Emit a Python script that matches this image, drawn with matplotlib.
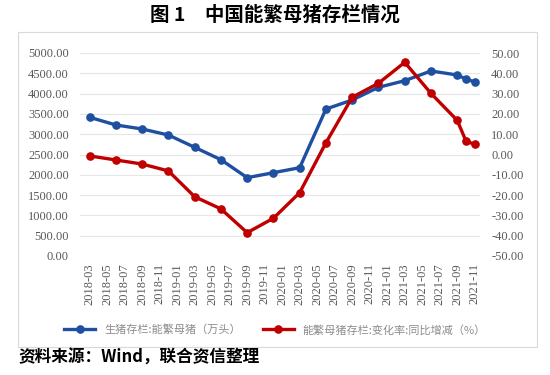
import matplotlib
matplotlib.use("Agg")
import matplotlib.pyplot as plt
from matplotlib.patches import Rectangle

plt.rcParams['font.family'] = ['Noto Sans CJK SC', 'DejaVu Sans']

# data points (quarterly, then monthly at the end)
dates = ['2018-03', '2018-06', '2018-09', '2018-12',
         '2019-03', '2019-06', '2019-09', '2019-12',
         '2020-03', '2020-06', '2020-09', '2020-12',
         '2021-03', '2021-06', '2021-09', '2021-10', '2021-11']
sows = [3416, 3227, 3128, 2980, 2677, 2372, 1929, 2052,
        2175, 3620, 3842, 4155, 4318, 4557, 4458, 4360, 4286]
yoy = [-0.7, -2.7, -4.7, -8.1, -20.8, -26.8, -38.5, -31.4,
       -18.8, 5.8, 28.2, 35.1, 45.4, 30.1, 16.8, 6.6, 5.0]

tick_labels = ['2018-03', '2018-05', '2018-07', '2018-09', '2018-11',
               '2019-01', '2019-03', '2019-05', '2019-07', '2019-09', '2019-11',
               '2020-01', '2020-03', '2020-05', '2020-07', '2020-09', '2020-11',
               '2021-01', '2021-03', '2021-05', '2021-07', '2021-09', '2021-11']

label_blue = '生猪存栏:能繁母猪（万头）'
label_red = '能繁母猪存栏:变化率:同比增减（%）'


def month_index(s):
    y, m = s.split('-')
    return (int(y) - 2018) * 12 + int(m) - 3


x = [month_index(d) for d in dates]
xt = [month_index(d) for d in tick_labels]

blue = '#1f4fa0'
red = '#c00000'
tick_color = '#595959'
serif = ['Liberation Serif', 'DejaVu Serif']

fig = plt.figure(figsize=(5.5, 3.75), dpi=100)

# chart frame
fig.patches.append(Rectangle((18 / 550, 1 - 347 / 375), 519 / 550, 315 / 375,
                             transform=fig.transFigure, fill=False,
                             edgecolor='#d9d9d9', linewidth=0.8))

ax = fig.add_axes([80 / 550, 1 - 256 / 375, 400 / 550, 203 / 375])
ax2 = ax.twinx()

ax.set_ylim(0, 5000)
ax.set_yticks(range(0, 5001, 500))
ax.set_yticklabels([f'{v:.2f}' for v in range(0, 5001, 500)], family=serif)
ax2.set_ylim(-50, 50)
ax2.set_yticks(range(-50, 51, 10))
ax2.set_yticklabels([f'{v:.2f}' for v in range(-50, 51, 10)], family=serif)

ax.set_xlim(-1.1, 44.6)
ax.set_xticks(xt)
ax.set_xticklabels(tick_labels, rotation=90, family=serif)

ax.grid(axis='y', color='#e6e6e6', linewidth=0.8)
ax.set_axisbelow(True)
for a in (ax, ax2):
    for sp in a.spines.values():
        sp.set_visible(False)
    a.tick_params(length=0, labelsize=9, colors=tick_color, pad=8)
ax.tick_params(axis='x', pad=5)

l1, = ax.plot(x, sows, color=blue, linewidth=2.4, marker='o', markersize=5.2,
              label=label_blue, zorder=3)
l2, = ax2.plot(x, yoy, color=red, linewidth=2.4, marker='o', markersize=5.2,
               label=label_red, zorder=3)

fig.legend([l1, l2], [label_blue, label_red], loc='center',
           bbox_to_anchor=(0.5, 1 - 330 / 375), ncol=2, frameon=False,
           fontsize=8, handlelength=2.8, columnspacing=2.0,
           labelcolor='#8c8c8c')

fig.text(0.5, 1 - 15 / 375, '图 1　中国能繁母猪存栏情况', ha='center', va='center',
         fontsize=14, fontweight='bold')
fig.text(18 / 550, 1 - 358 / 375, '资料来源：Wind，联合资信整理', ha='left',
         va='center', fontsize=12, fontweight='bold')

fig.savefig('out.png', dpi=100)
